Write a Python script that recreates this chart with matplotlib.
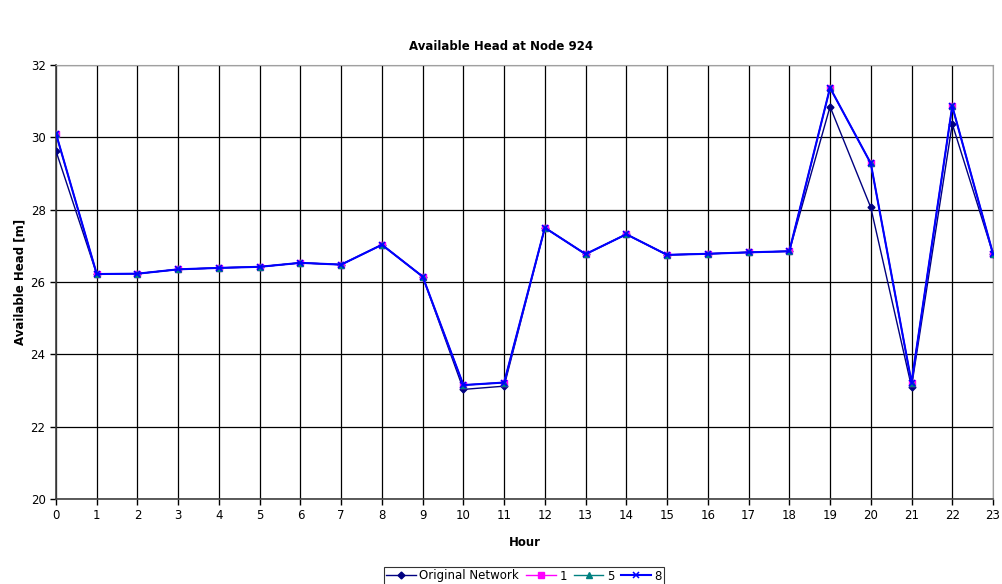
import matplotlib
matplotlib.use("Agg")
import matplotlib.pyplot as plt

hours = list(range(24))
original = [29.62, 26.22, 26.23, 26.35, 26.39, 26.42, 26.53, 26.48, 27.03, 26.15,
            23.03, 23.12, 27.50, 26.77, 27.32, 26.75, 26.78, 26.82, 26.85, 30.85,
            28.06, 23.10, 30.37, 26.78]
scen_1 = [30.10, 26.22, 26.23, 26.35, 26.39, 26.42, 26.53, 26.48, 27.03, 26.15,
          23.15, 23.22, 27.50, 26.77, 27.32, 26.75, 26.78, 26.82, 26.85, 31.37,
          29.28, 23.22, 30.86, 26.78]
scen_5 = list(scen_1)
scen_8 = list(scen_1)
y_ticks = [20, 22, 24, 26, 28, 30, 32]

fig = plt.figure(figsize=(10.03, 5.84), dpi=100)
ax = fig.add_axes([56 / 1003, 1 - 499 / 584, (993 - 56) / 1003, (499 - 65) / 584])

ax.plot(hours, original, color="#000080", lw=1.0, marker="D", ms=3.5,
        mfc="#000080", mec="#000080", label="Original Network", zorder=3)
ax.plot(hours, scen_1, color="#FF00FF", lw=1.0, marker="s", ms=4.5,
        mfc="#FF00FF", mec="#FF00FF", label="1", zorder=4)
ax.plot(hours, scen_5, color="#008080", lw=1.0, marker="^", ms=4.5,
        mfc="#008080", mec="#008080", label="5", zorder=5)
ax.plot(hours, scen_8, color="#0000FF", lw=1.5, marker="x", ms=4.5, mew=1.1,
        label="8", zorder=6)

ax.set_xlim(0, 23)
ax.set_ylim(20, 32)
ax.set_xticks(hours)
ax.set_yticks(y_ticks)
ax.tick_params(axis="both", labelsize=8.5, direction="out", length=4, width=1, color="black")
ax.grid(True, color="black", lw=0.9)
ax.set_axisbelow(True)
for side in ("top", "right"):
    ax.spines[side].set_color("#A0A0A0")
for side in ("left", "bottom"):
    ax.spines[side].set_color("#404040")
    ax.spines[side].set_linewidth(1.2)

ax.set_xlabel("Hour", fontsize=8.5, fontweight="bold", labelpad=10)
ax.set_ylabel("Available Head [m]", fontsize=8.5, fontweight="bold", labelpad=3)
fig.text(0.5, 1 - 47 / 584, "Available Head at Node 924", ha="center", va="center",
         fontsize=8.5, fontweight="bold")

leg = fig.legend(loc="center", bbox_to_anchor=(524 / 1003, 1 - 576 / 584), ncol=4,
                 fontsize=8.5, frameon=True, fancybox=False, handlelength=2.5,
                 handletextpad=0.3, columnspacing=0.6, borderpad=0.2,
                 borderaxespad=0)
leg.get_frame().set_edgecolor("black")
leg.get_frame().set_linewidth(0.8)

fig.savefig("out.png", dpi=100)
